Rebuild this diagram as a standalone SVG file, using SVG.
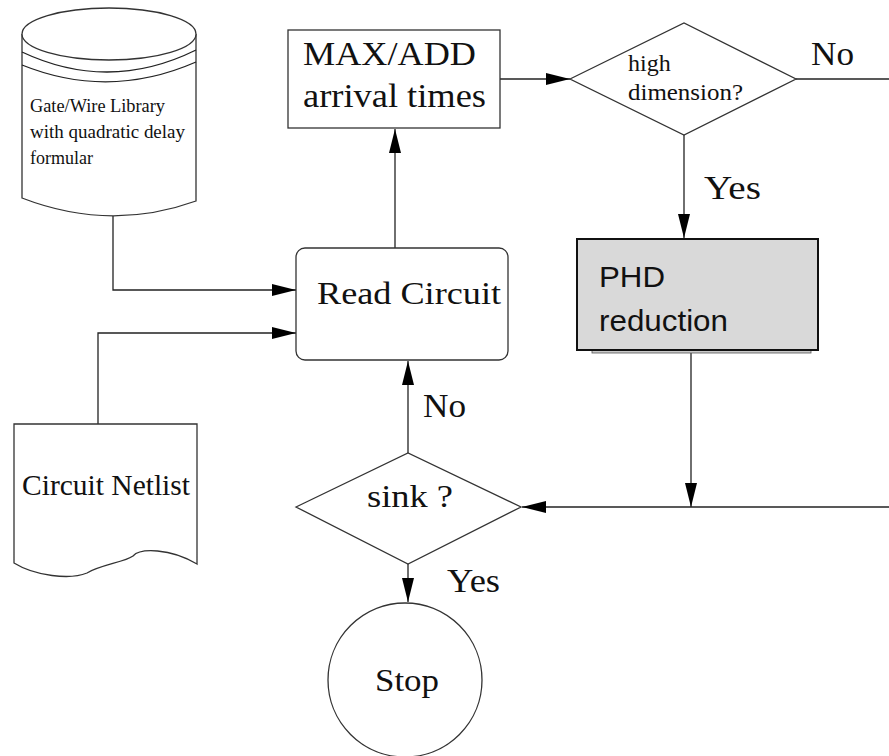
<svg xmlns="http://www.w3.org/2000/svg" width="889" height="756" viewBox="0 0 889 756">
  <style>
    .shape { fill: #ffffff; stroke: #333333; stroke-width: 1.3; }
    .wire { fill: none; stroke: #222222; stroke-width: 1.3; }
    .serif { font-family: "Liberation Serif", "Times New Roman", serif; fill: #111111; }
    .sans { font-family: "Liberation Sans", Arial, sans-serif; fill: #111111; }
  </style>
  <defs>
    <marker id="arrow" markerUnits="userSpaceOnUse" markerWidth="24" markerHeight="12" refX="24" refY="6" orient="auto">
      <path d="M0,0 L24,6 L0,12 Z" fill="#000000"/>
    </marker>
  </defs>
  <rect width="889" height="756" fill="#ffffff"/>

  <!-- connectors -->
  <g id="connectors">
    <path class="wire" d="M113,216 V290 H296" marker-end="url(#arrow)"/>
    <path class="wire" d="M98,424 V333 H296" marker-end="url(#arrow)"/>
    <path class="wire" d="M395,248 V129" marker-end="url(#arrow)"/>
    <path class="wire" d="M500,79 H570" marker-end="url(#arrow)"/>
    <path class="wire" d="M796,79 H889"/>
    <path class="wire" d="M684,135 V238" marker-end="url(#arrow)"/>
    <path class="wire" d="M691,353 V507" marker-end="url(#arrow)"/>
    <path class="wire" d="M889,507 H522" marker-end="url(#arrow)"/>
    <path class="wire" d="M408,453 V361" marker-end="url(#arrow)"/>
    <path class="wire" d="M408,564 V602" marker-end="url(#arrow)"/>
    <text class="serif" x="811" y="65" font-size="33" textLength="43" lengthAdjust="spacingAndGlyphs">No</text>
    <text class="serif" x="704" y="199" font-size="33" textLength="57" lengthAdjust="spacingAndGlyphs">Yes</text>
    <text class="serif" x="423" y="417" font-size="33" textLength="43" lengthAdjust="spacingAndGlyphs">No</text>
    <text class="serif" x="447" y="592" font-size="33" textLength="53" lengthAdjust="spacingAndGlyphs">Yes</text>
  </g>

  <!-- library database -->
  <g id="library">
    <path class="shape" d="M22,34 V198 Q110,232 196,201 V34"/>
    <ellipse class="shape" cx="109" cy="34" rx="87" ry="26"/>
    <path class="wire" d="M22,52 Q109,93 196,50"/>
    <path class="wire" d="M22,65 Q109,100 196,62"/>
    <text class="serif" x="30" y="112" font-size="18" textLength="135" lengthAdjust="spacingAndGlyphs">Gate/Wire Library</text>
    <text class="serif" x="30" y="138" font-size="18" textLength="155" lengthAdjust="spacingAndGlyphs">with quadratic delay</text>
    <text class="serif" x="30" y="164" font-size="18">formular</text>
  </g>

  <!-- netlist document -->
  <g id="netlist">
    <path class="shape" d="M14,424 H197 V564 C170,548 140,548 133,556 C125,562 100,565 87,573 C70,580 35,576 14,563 Z"/>
    <text class="serif" x="22" y="495" font-size="29" textLength="168" lengthAdjust="spacingAndGlyphs">Circuit Netlist</text>
  </g>

  <!-- max/add step -->
  <g id="maxadd">
    <rect class="shape" x="288" y="30" width="212" height="98"/>
    <text class="serif" x="303" y="65" font-size="33" textLength="173" lengthAdjust="spacingAndGlyphs">MAX/ADD</text>
    <text class="serif" x="303" y="107" font-size="33" textLength="183" lengthAdjust="spacingAndGlyphs">arrival times</text>
  </g>

  <!-- high dimension decision -->
  <g id="highdim">
    <polygon class="shape" points="570,79 684,23 796,79 684,135"/>
    <text class="serif" x="628" y="71" font-size="24">high</text>
    <text class="serif" x="628" y="100" font-size="24" textLength="115" lengthAdjust="spacingAndGlyphs">dimension?</text>
  </g>

  <!-- PHD reduction -->
  <g id="phd">
    <rect x="592" y="349" width="219" height="4" fill="#c8c8c8" stroke="#555555" stroke-width="0.8"/>
    <rect x="577" y="239" width="241" height="111" fill="#d9d9d9" stroke="#111111" stroke-width="2"/>
    <text class="sans" x="599" y="287" font-size="30" textLength="66" lengthAdjust="spacingAndGlyphs">PHD</text>
    <text class="sans" x="599" y="331" font-size="30" textLength="129" lengthAdjust="spacingAndGlyphs">reduction</text>
  </g>

  <!-- read circuit step -->
  <g id="readcircuit">
    <rect class="shape" x="296" y="248" width="212" height="112" rx="9" ry="9"/>
    <text class="serif" x="317" y="304" font-size="32" textLength="184" lengthAdjust="spacingAndGlyphs">Read Circuit</text>
  </g>

  <!-- sink decision -->
  <g id="sink">
    <polygon class="shape" points="296,507 408,453 521,507 408,564"/>
    <text class="serif" x="367" y="507" font-size="32" textLength="86" lengthAdjust="spacingAndGlyphs">sink ?</text>
  </g>

  <!-- terminal -->
  <g id="stop">
    <circle class="shape" cx="405" cy="680" r="77"/>
    <text class="serif" x="375" y="691" font-size="32" textLength="64" lengthAdjust="spacingAndGlyphs">Stop</text>
  </g>
</svg>
